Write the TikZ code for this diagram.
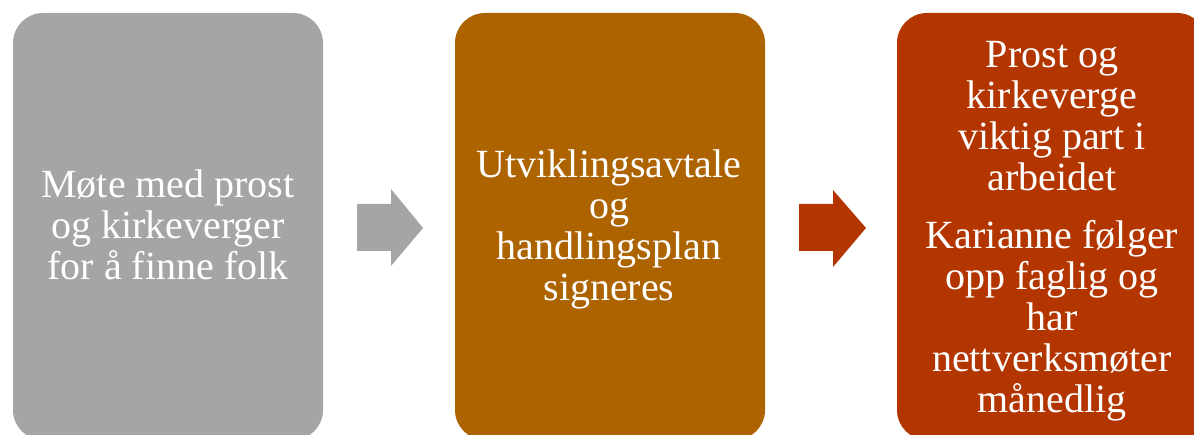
\documentclass[tikz,border=0pt]{standalone}
\usepackage{fontspec}
\setmainfont{Liberation Serif}
\definecolor{boxgray}{HTML}{A5A5A5}
\definecolor{boxorange}{HTML}{AD6400}
\definecolor{boxred}{HTML}{B33600}
\tikzset{
  stagebox/.style={rectangle, rounded corners=30pt, minimum width=310pt, minimum height=427pt, inner sep=0pt, draw=none},
  boxtext/.style={anchor=north, inner sep=0pt, align=center, text=white, font=\fontsize{40}{41}\selectfont},
}
\begin{document}
\begin{tikzpicture}[x=1pt,y=-1pt]
\useasboundingbox (0,0) rectangle (1194,435);
\node[stagebox, fill=boxgray]   (b1) at (168,226.5) {};
\node[stagebox, fill=boxorange] (b2) at (610,226.5) {};
\node[stagebox, fill=boxred]    (b3) at (1052,226.5) {};
% arrows
\fill[boxgray] (357,204) -- (391,204) -- (391,189) -- (423,228) -- (391,266) -- (391,251) -- (357,251) -- cycle;
\fill[boxred] (799,204) -- (833,204) -- (833,190) -- (866,228) -- (833,267) -- (833,251) -- (799,251) -- cycle;
% texts
\node[boxtext] (t1) at (168,{197-28.7}) {\strut M\o te med prost\\og kirkeverger\\for \aa{} finne folk};
\node[boxtext] (t2) at (609,{177-28.7}) {\strut Utviklingsavtale\\og\\handlingsplan\\signeres};
\node[boxtext] (t3) at (1052,{67-28.7}) {\strut Prost og\\kirkeverge\\viktig part i\\arbeidet};
\node[boxtext] (t4) at (1052,{248-28.7}) {\strut Karianne f\o lger\\opp faglig og\\har\\nettverksm\o ter\\m\aa nedlig};
\end{tikzpicture}
\end{document}
